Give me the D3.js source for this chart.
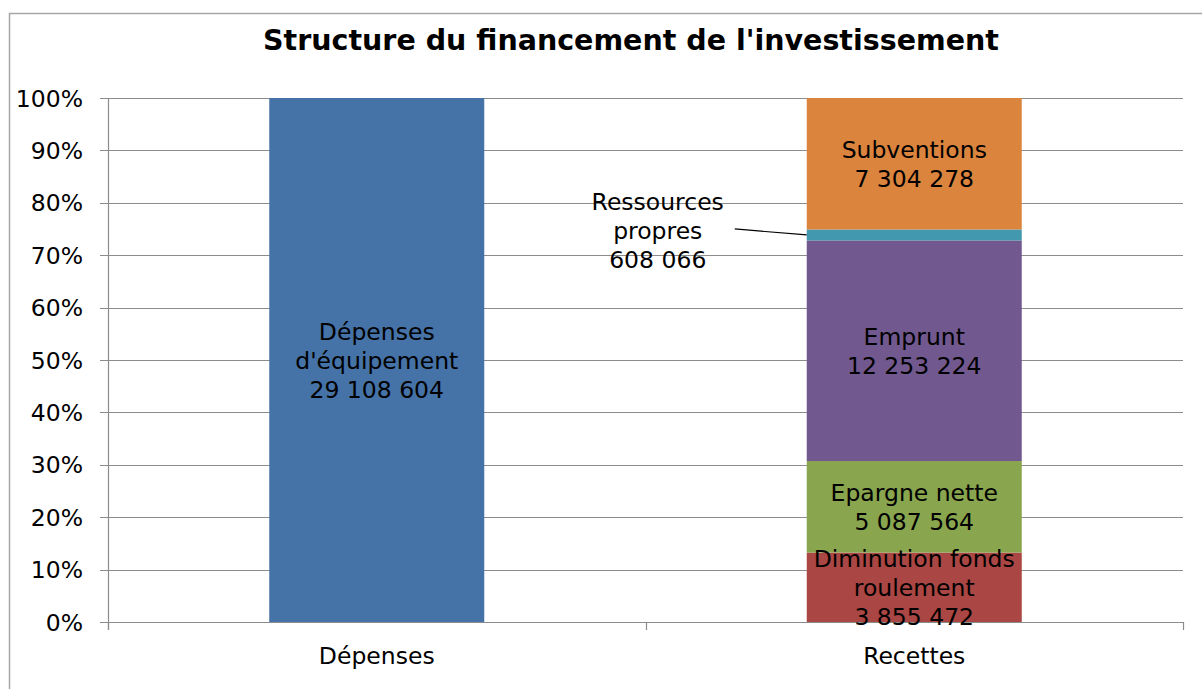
<!DOCTYPE html>
<html>
<head>
<meta charset="utf-8">
<script src="https://cdn.jsdelivr.net/npm/d3@7"></script>
<style>
   body { margin: 0; background: #fff; }
   text { font-family: "DejaVu Sans", Verdana, sans-serif; fill: #000; }
</style>
</head>
<body>
<svg id="chart" width="1202" height="689"></svg>
<script>
const title = "Structure du financement de l'investissement";
const categories = ["Dépenses", "Recettes"];
const yTicks = [0, 0.1, 0.2, 0.3, 0.4, 0.5, 0.6, 0.7, 0.8, 0.9, 1];

// segments, bottom to top within each bar
const segNames = [["Dépenses", "d'équipement"], ["Diminution fonds", "roulement"], ["Epargne nette"], ["Emprunt"], ["Ressources", "propres"], ["Subventions"]];
const segCategory = ["Dépenses", "Recettes", "Recettes", "Recettes", "Recettes", "Recettes"];
const segValues = [29108604, 3855472, 5087564, 12253224, 608066, 7304278];
const segColors = ["#4572a7", "#aa4643", "#89a54e", "#71588f", "#4198af", "#db843d"];

function fmt(x) {
   return x.toString().replace(/\B(?=(\d{3})+(?!\d))/g, " ");
}

const svg = d3.select("#chart");
const fs = "23.5px";

svg.append("rect")
   .attr("x", 9.5).attr("y", 13.5)
   .attr("width", 1220).attr("height", 700)
   .attr("fill", "#fff")
   .attr("stroke", "#a6a6a6")
   .attr("stroke-width", 1.5);

svg.append("text")
   .text(title)
   .attr("x", 631).attr("y", 50)
   .attr("text-anchor", "middle")
   .style("font-weight", "bold")
   .style("font-size", "28.5px");

const plotL = 108, plotR = 1183, plotT = 98, plotB = 622;

const y = d3.scaleLinear().domain([0, 1]).range([plotB, plotT]);
const x = d3.scaleBand().domain(categories).range([plotL, plotR])
   .paddingInner(0.6).paddingOuter(0.3);

// gridlines
svg.append("g")
   .selectAll("line")
   .data(yTicks)
   .enter()
   .append("line")
      .attr("x1", plotL - 8)
      .attr("x2", plotR)
      .attr("y1", d => Math.round(y(d)) + 0.5)
      .attr("y2", d => Math.round(y(d)) + 0.5)
      .attr("stroke", "#8c8c8c")
      .attr("stroke-width", 1.2);

svg.append("g")
   .selectAll("text")
   .data(yTicks)
   .enter()
   .append("text")
      .text(d => Math.round(d * 100) + "%")
      .attr("x", plotL - 25)
      .attr("y", d => y(d) + 8.5)
      .attr("text-anchor", "end")
      .style("font-size", fs);

// totals per category for percentages
const totals = new Map(categories.map(c => [c, d3.sum(segValues.filter((v, i) => segCategory[i] == c))]));
const segs = [];
const acc = new Map(categories.map(c => [c, 0]));
segValues.forEach(function(v, i) {
   const c = segCategory[i];
   const y0 = acc.get(c) / totals.get(c);
   acc.set(c, acc.get(c) + v);
   const y1 = acc.get(c) / totals.get(c);
   segs.push({ name: segNames[i], cat: c, value: v, y0: y0, y1: y1, color: segColors[i] });
});

svg.append("g")
   .selectAll("rect")
   .data(segs)
   .enter()
   .append("rect")
      .attr("x", d => x(d.cat))
      .attr("width", x.bandwidth())
      .attr("y", d => y(d.y1))
      .attr("height", d => y(d.y0) - y(d.y1))
      .attr("fill", d => d.color);

// axes lines
svg.append("line")
   .attr("x1", plotL + 0.5).attr("x2", plotL + 0.5)
   .attr("y1", plotT).attr("y2", plotB + 8)
   .attr("stroke", "#8c8c8c").attr("stroke-width", 1.2);

const catEdges = [plotL, plotL + (plotR - plotL) / 2, plotR];
svg.append("g")
   .selectAll("line")
   .data(catEdges)
   .enter()
   .append("line")
      .attr("x1", d => Math.round(d) + 0.5)
      .attr("x2", d => Math.round(d) + 0.5)
      .attr("y1", plotB)
      .attr("y2", plotB + 8)
      .attr("stroke", "#8c8c8c").attr("stroke-width", 1.2);

svg.append("g")
   .selectAll("text")
   .data(categories)
   .enter()
   .append("text")
      .text(d => d)
      .attr("x", d => x(d) + x.bandwidth() / 2)
      .attr("y", 664)
      .attr("text-anchor", "middle")
      .style("font-size", fs);

// segment labels
const lineH = 29;
segs.forEach(function(d) {
   const lines = d.name.concat([fmt(d.value)]);
   let cx = x(d.cat) + x.bandwidth() / 2;
   let cy = (y(d.y0) + y(d.y1)) / 2;
   const small = (y(d.y0) - y(d.y1)) < 20;
   if (small) {
      // label outside, with leader line
      cx = x(d.cat) - 149;
      cy = cy - 4;
      svg.append("line")
         .attr("x1", x(d.cat) - 72).attr("y1", cy - 2)
         .attr("x2", x(d.cat)).attr("y2", (y(d.y0) + y(d.y1)) / 2)
         .attr("stroke", "#000").attr("stroke-width", 1.2);
   }
   const t = svg.append("text")
      .attr("text-anchor", "middle")
      .style("font-size", fs);
   lines.forEach(function(l, i) {
      t.append("tspan")
         .text(l)
         .attr("x", cx)
         .attr("y", cy + (i - (lines.length - 1) / 2) * lineH + 8.5);
   });
});
</script>
</body>
</html>
